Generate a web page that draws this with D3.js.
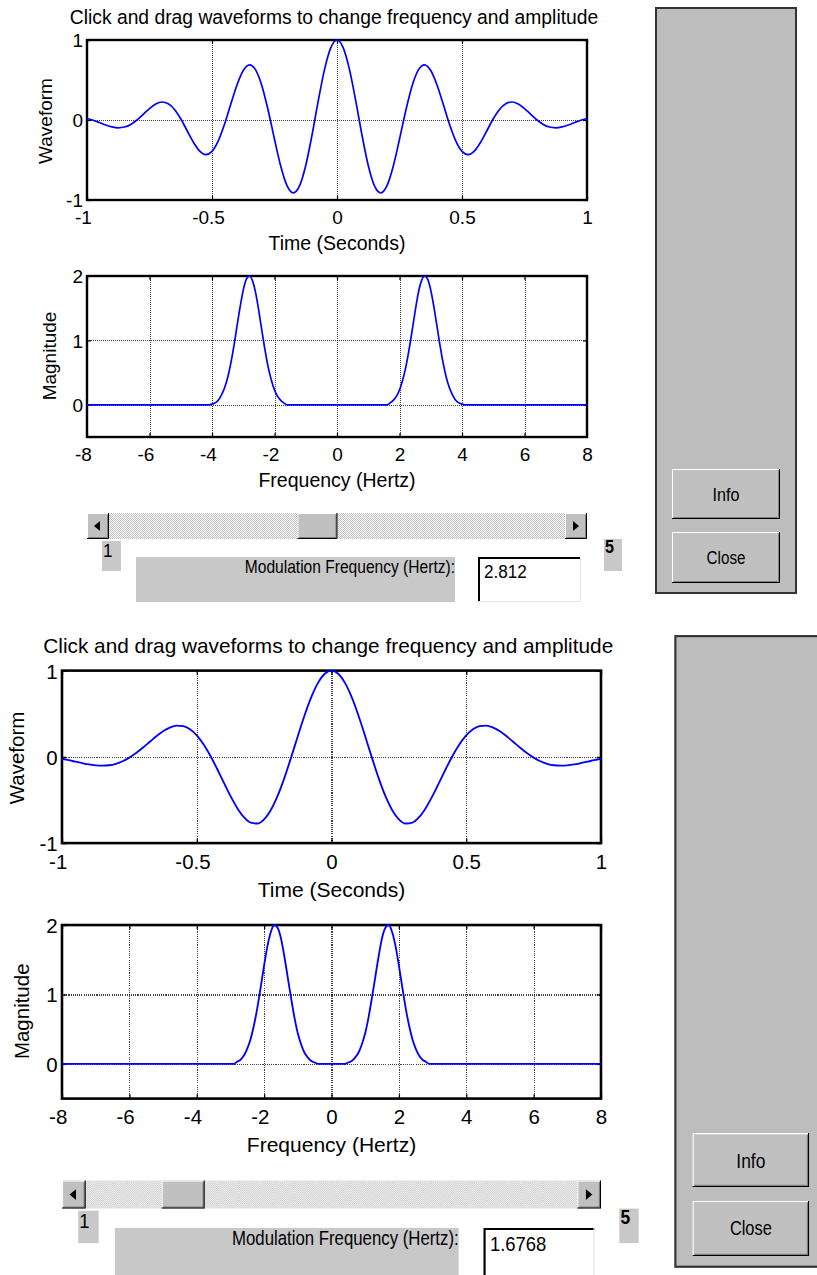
<!DOCTYPE html>
<html>
  <head>
    <meta charset="utf-8">
    <title>Modulation frequency demo</title>
    <script src="https://d3js.org/d3.v7.min.js"></script>
    <style>
      body { margin: 0; background: #fff; }
      svg { display: block; }
      .plotText { font-family: "Liberation Sans", Arial, sans-serif; fill: #000; }
      .guiText { font-family: "Liberation Sans Narrow", "Liberation Sans", Arial, sans-serif; fill: #000; }
      .trace { fill: none; stroke: #0000ff; stroke-width: 1.7; stroke-linejoin: round; }
    </style>
  </head>
  <body>
    <svg id="chart" width="817" height="1275"></svg>
    <script>
      // chart text and ticks
      const titleText = "Click and drag waveforms to change frequency and amplitude";
      const timeTicks = [-1, -0.5, 0, 0.5, 1];
      const waveTicks = [-1, 0, 1];
      const freqTicks = [-8, -6, -4, -2, 0, 2, 4, 6, 8];
      const magTicks = [0, 1, 2];
      const sliderRange = [1, 5];
      const modFreqs = [2.812, 1.6768];
      const modLabels = ["2.812", "1.6768"];
      const sampleStep = 0.025; // seconds between waveform samples, starting at -1

      // waveform samples (t = -1 ... 1)
      const waveTop = [0.019, -0.003, -0.032, -0.062, -0.086, -0.098, -0.088, -0.055, 0.000, 0.071,
        0.143, 0.201, 0.225, 0.204, 0.132, 0.015, -0.131, -0.275, -0.386, -0.433,
        -0.392, -0.261, -0.053, 0.197, 0.438, 0.618, 0.689, 0.624, 0.423, 0.116,
        -0.241, -0.578, -0.820, -0.911, -0.824, -0.568, -0.189, 0.239, 0.630, 0.902,
        1.000,
        0.902, 0.630, 0.239, -0.189, -0.568, -0.824, -0.911, -0.820, -0.578, -0.241,
        0.116, 0.423, 0.624, 0.689, 0.618, 0.438, 0.197, -0.053, -0.261, -0.392,
        -0.433, -0.386, -0.275, -0.131, 0.015, 0.132, 0.204, 0.225, 0.201, 0.143,
        0.071, 0.000, -0.055, -0.088, -0.098, -0.086, -0.062, -0.032, -0.003, 0.019];
      const waveBottom = [-0.022, -0.038, -0.056, -0.073, -0.088, -0.098, -0.102, -0.097, -0.080, -0.051,
        -0.009, 0.044, 0.106, 0.172, 0.238, 0.296, 0.339, 0.362, 0.356, 0.320,
        0.249, 0.146, 0.016, -0.135, -0.296, -0.453, -0.592, -0.700, -0.763, -0.773,
        -0.725, -0.616, -0.453, -0.246, -0.009, 0.240, 0.480, 0.692, 0.858, 0.964,
        1.000,
        0.964, 0.858, 0.692, 0.480, 0.240, -0.009, -0.246, -0.453, -0.616, -0.725,
        -0.773, -0.763, -0.700, -0.592, -0.453, -0.296, -0.135, 0.016, 0.146, 0.249,
        0.320, 0.356, 0.362, 0.339, 0.296, 0.238, 0.172, 0.106, 0.044, -0.009,
        -0.051, -0.080, -0.097, -0.102, -0.098, -0.088, -0.073, -0.056, -0.038, -0.022];

      // magnitude spectra as [frequency, magnitude]
      const specTop = [[-8, 0], [-4.1, 0], [-4.0, 0.01], [-3.9, 0.03], [-3.8, 0.07], [-3.7, 0.15], [-3.6, 0.26],
        [-3.5, 0.42], [-3.4, 0.64], [-3.3, 0.91], [-3.2, 1.22], [-3.1, 1.52], [-3.0, 1.78], [-2.9, 1.95],
        [-2.8, 2.0], [-2.7, 1.92], [-2.6, 1.73], [-2.5, 1.45], [-2.4, 1.14], [-2.3, 0.84], [-2.2, 0.58],
        [-2.1, 0.38], [-2.0, 0.23], [-1.9, 0.13], [-1.8, 0.07], [-1.7, 0.03], [-1.6, 0],
        [1.6, 0], [1.7, 0.03], [1.8, 0.07], [1.9, 0.13], [2.0, 0.23], [2.1, 0.38], [2.2, 0.58],
        [2.3, 0.84], [2.4, 1.14], [2.5, 1.45], [2.6, 1.73], [2.7, 1.92], [2.8, 2.0], [2.9, 1.95],
        [3.0, 1.78], [3.1, 1.52], [3.2, 1.22], [3.3, 0.91], [3.4, 0.64], [3.5, 0.42], [3.6, 0.26],
        [3.7, 0.15], [3.8, 0.07], [3.9, 0.03], [4.0, 0.01], [4.1, 0], [8, 0]];
      const specBottom = [[-8, 0], [-2.9, 0], [-2.8, 0.03], [-2.7, 0.06], [-2.6, 0.12], [-2.5, 0.22], [-2.4, 0.36],
        [-2.3, 0.56], [-2.2, 0.81], [-2.1, 1.11], [-2.0, 1.42], [-1.9, 1.70], [-1.8, 1.90], [-1.7, 2.0],
        [-1.6, 1.96], [-1.5, 1.81], [-1.4, 1.55], [-1.3, 1.25], [-1.2, 0.95], [-1.1, 0.67], [-1.0, 0.44],
        [-0.9, 0.28], [-0.8, 0.16], [-0.7, 0.09], [-0.6, 0.04], [-0.5, 0.02], [-0.4, 0],
        [0.4, 0], [0.5, 0.02], [0.6, 0.04], [0.7, 0.09], [0.8, 0.16], [0.9, 0.28], [1.0, 0.44],
        [1.1, 0.67], [1.2, 0.95], [1.3, 1.25], [1.4, 1.55], [1.5, 1.81], [1.6, 1.96], [1.7, 2.0],
        [1.8, 1.90], [1.9, 1.70], [2.0, 1.42], [2.1, 1.11], [2.2, 0.81], [2.3, 0.56], [2.4, 0.36],
        [2.5, 0.22], [2.6, 0.12], [2.7, 0.06], [2.8, 0.03], [2.9, 0], [8, 0]];

      const svg = d3.select("#chart");

      // stippled fill used by the slider trough
      const dither = svg.append("defs").append("pattern")
        .attr("id", "dither")
        .attr("width", 2)
        .attr("height", 2)
        .attr("patternUnits", "userSpaceOnUse");
      dither.append("rect").attr("width", 2).attr("height", 2).attr("fill", "#ffffff");
      dither.append("rect").attr("width", 1).attr("height", 1).attr("fill", "#c0c0c0");
      dither.append("rect").attr("x", 1).attr("y", 1).attr("width", 1).attr("height", 1).attr("fill", "#c0c0c0");

      // the second screenshot is the same window, a bit larger and lower
      const panels = [
        { shift: [0, 0], zoom: 1, wave: waveTop, spectrum: specTop, value: modFreqs[0], text: modLabels[0] },
        { shift: [-31.8, 627.5], zoom: 1.078, wave: waveBottom, spectrum: specBottom, value: modFreqs[1], text: modLabels[1] }
      ];
      panels.forEach(drawPanel);

      function drawPanel(p) {
        const g = svg.append("g")
          .attr("transform", "translate(" + p.shift[0] + "," + p.shift[1] + ") scale(" + p.zoom + ")");

        g.append("text")
          .attr("class", "plotText")
          .attr("x", 334)
          .attr("y", 24)
          .attr("text-anchor", "middle")
          .style("font-size", "19.3px")
          .text(titleText);

        // waveform
        const xt = d3.scaleLinear().domain([-1, 1]).range([87, 587]);
        const yw = d3.scaleLinear().domain([-1, 1]).range([200, 40]);
        drawAxes(g, xt, yw, timeTicks, waveTicks);
        g.append("path")
          .attr("class", "trace")
          .attr("d", d3.line()
            .x(function(v, i) { return xt(-1 + i * sampleStep); })
            .y(function(v) { return yw(v); })
            .curve(d3.curveMonotoneX)(p.wave));
        axisTitles(g, "Time (Seconds)", 250, "Waveform", 52, 121);

        // spectrum
        const xf = d3.scaleLinear().domain([-8, 8]).range([87, 587]);
        const ym = d3.scaleLinear().domain([-0.5, 2]).range([437, 276]);
        drawAxes(g, xf, ym, freqTicks, magTicks);
        g.append("path")
          .attr("class", "trace")
          .attr("d", d3.line()
            .x(function(d) { return xf(d[0]); })
            .y(function(d) { return ym(d[1]); })
            .curve(d3.curveMonotoneX)(p.spectrum));
        axisTitles(g, "Frequency (Hertz)", 487, "Magnitude", 56, 356);

        drawControls(g, p);
      }

      function drawAxes(g, x, y, xTicks, yTicks) {
        const left = x.range()[0], right = x.range()[1];
        const bottom = y.range()[0], top = y.range()[1];
        const yDom = y.domain();
        // dotted grid
        const grid = g.append("g");
        grid.append("g")
          .attr("transform", "translate(0," + bottom + ")")
          .call(d3.axisBottom(x).tickValues(xTicks.slice(1, -1)).tickSize(top - bottom).tickFormat(""));
        grid.append("g")
          .attr("transform", "translate(" + left + ",0)")
          .call(d3.axisLeft(y)
            .tickValues(yTicks.filter(function(t) { return t > yDom[0] && t < yDom[1]; }))
            .tickSize(left - right).tickFormat(""));
        grid.selectAll(".domain").remove();
        grid.selectAll("line")
          .attr("stroke", "#000")
          .attr("stroke-opacity", 0.75)
          .attr("stroke-dasharray", "1,1")
          .attr("shape-rendering", "crispEdges");
        // small inward ticks on all four sides
        const ticks = g.append("g");
        ticks.append("g").attr("transform", "translate(0," + bottom + ")")
          .call(d3.axisBottom(x).tickValues(xTicks).tickSizeInner(-4).tickSizeOuter(0).tickFormat(""));
        ticks.append("g").attr("transform", "translate(0," + top + ")")
          .call(d3.axisTop(x).tickValues(xTicks).tickSizeInner(-4).tickSizeOuter(0).tickFormat(""));
        ticks.append("g").attr("transform", "translate(" + left + ",0)")
          .call(d3.axisLeft(y).tickValues(yTicks).tickSizeInner(-4).tickSizeOuter(0).tickFormat(""));
        ticks.append("g").attr("transform", "translate(" + right + ",0)")
          .call(d3.axisRight(y).tickValues(yTicks).tickSizeInner(-4).tickSizeOuter(0).tickFormat(""));
        ticks.selectAll(".domain").remove();
        ticks.selectAll("line").attr("stroke", "#000").attr("stroke-width", 1.2);
        // frame
        g.append("rect")
          .attr("x", left)
          .attr("y", top)
          .attr("width", right - left)
          .attr("height", bottom - top)
          .attr("fill", "none")
          .attr("stroke", "#000")
          .attr("stroke-width", 2.4);
        // tick labels
        const xLab = g.append("g")
          .attr("transform", "translate(0," + bottom + ")")
          .call(d3.axisBottom(x).tickValues(xTicks).tickSize(0).tickFormat(function(d) { return String(d); }));
        xLab.selectAll("text")
          .attr("y", 24)
          .attr("dy", null)
          .attr("dx", function(d) { return d < 0 ? -4 : 0; });
        const yLab = g.append("g")
          .attr("transform", "translate(" + left + ",0)")
          .call(d3.axisLeft(y).tickValues(yTicks).tickSize(0).tickPadding(4).tickFormat(function(d) { return String(d); }));
        yLab.selectAll("text").attr("dy", "0.36em");
        g.selectAll(".tick text").filter(function() { return this.textContent !== ""; })
          .attr("class", "plotText")
          .style("font-size", "19px");
        xLab.attr("font-family", null).attr("font-size", null).select(".domain").remove();
        yLab.attr("font-family", null).attr("font-size", null).select(".domain").remove();
      }

      function axisTitles(g, xTitle, xBase, yTitle, yBase, yMid) {
        g.append("text")
          .attr("class", "plotText")
          .attr("x", 337)
          .attr("y", xBase)
          .attr("text-anchor", "middle")
          .style("font-size", "19.5px")
          .text(xTitle);
        g.append("text")
          .attr("class", "plotText")
          .attr("transform", "translate(" + yBase + "," + yMid + ") rotate(-90)")
          .attr("text-anchor", "middle")
          .style("font-size", "19px")
          .text(yTitle);
      }

      // 3D box in the old windows style
      function bevel(g, x, y, w, h, sunken) {
        g.append("rect").attr("x", x).attr("y", y).attr("width", w).attr("height", h)
          .attr("fill", sunken ? "#ffffff" : "#c0c0c0");
        if (sunken) {
          g.append("path").attr("d", "M" + (x + 1) + "," + (y + h) + "V" + (y + 1) + "H" + (x + w))
            .attr("fill", "none").attr("stroke", "#000").attr("stroke-width", 2);
          g.append("path").attr("d", "M" + (x + w - 0.5) + "," + y + "V" + (y + h - 0.5) + "H" + x)
            .attr("fill", "none").attr("stroke", "#e4e4e4").attr("stroke-width", 1);
        } else {
          g.append("path").attr("d", "M" + (x + 0.5) + "," + (y + h) + "V" + (y + 0.5) + "H" + (x + w))
            .attr("fill", "none").attr("stroke", "#ffffff").attr("stroke-width", 1);
          g.append("path").attr("d", "M" + (x + 1.5) + "," + (y + h - 1.5) + "H" + (x + w - 1.5) + "V" + (y + 1.5))
            .attr("fill", "none").attr("stroke", "#808080").attr("stroke-width", 1);
          g.append("path").attr("d", "M" + x + "," + (y + h - 0.5) + "H" + (x + w - 0.5) + "V" + y)
            .attr("fill", "none").attr("stroke", "#000").attr("stroke-width", 1);
        }
      }

      // narrow dialog font, squeezed sideways
      function guiText(g, x, y, txt, size, anchor, squeeze) {
        return g.append("text")
          .attr("class", "guiText")
          .attr("transform", "translate(" + x + "," + y + ") scale(" + (squeeze || 0.8) + ",1)")
          .attr("text-anchor", anchor || "start")
          .style("font-size", size + "px")
          .text(txt);
      }

      function drawControls(g, p) {
        // slider
        g.append("rect")
          .attr("x", 87).attr("y", 513).attr("width", 500).attr("height", 26)
          .attr("fill", "url(#dither)");
        bevel(g, 87, 513, 22, 26, false);
        bevel(g, 565, 513, 22, 26, false);
        g.append("path").attr("d", "M94,526 L100,521 L100,531 Z").attr("fill", "#000");
        g.append("path").attr("d", "M579,526 L573,521 L573,531 Z").attr("fill", "#000");
        const thumb = d3.scaleLinear().domain(sliderRange).range([109, 525]);
        bevel(g, thumb(p.value), 513, 40, 26, false);

        // range labels
        g.append("rect").attr("x", 102).attr("y", 541).attr("width", 19).attr("height", 30).attr("fill", "#c8c8c8");
        guiText(g, 103, 557, String(sliderRange[0]), 19, "start", 0.9);
        g.append("rect").attr("x", 604).attr("y", 539).attr("width", 18).attr("height", 32).attr("fill", "#c8c8c8");
        guiText(g, 605, 553, String(sliderRange[1]), 18, "start", 0.9).style("font-weight", "bold");

        // caption and edit box
        g.append("rect").attr("x", 136).attr("y", 557).attr("width", 319).attr("height", 45).attr("fill", "#c8c8c8");
        guiText(g, 455, 573, "Modulation Frequency (Hertz):", 19, "end", 0.82);
        bevel(g, 478, 557, 103, 45, true);
        guiText(g, 484, 578, p.text, 19, "start", 0.9);

        // side panel with buttons
        g.append("rect")
          .attr("x", 656).attr("y", 8).attr("width", 140).attr("height", 585)
          .attr("fill", "#bdbdbd")
          .attr("stroke", "#333")
          .attr("stroke-width", 2);
        bevel(g, 672, 469, 108, 50, false);
        guiText(g, 726, 501, "Info", 19, "middle", 0.85);
        bevel(g, 672, 532, 108, 51, false);
        guiText(g, 726, 564, "Close", 19, "middle", 0.8);
      }
    </script>
  </body>
</html>
